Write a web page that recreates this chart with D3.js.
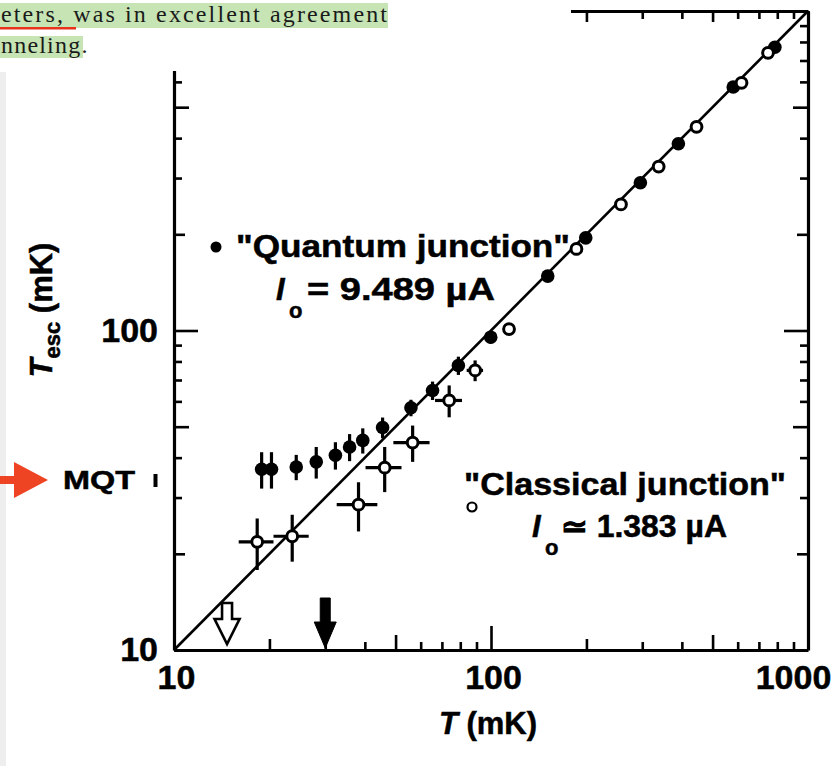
<!DOCTYPE html>
<html>
<head>
<meta charset="utf-8">
<script src="https://cdn.jsdelivr.net/npm/d3@7"></script>
<style>
  body { margin: 0; background: #fff; }
  svg { display: block; }
  .sans { font-family: "Liberation Sans", Arial, Helvetica, sans-serif; font-weight: bold; }
  .ink { stroke: #000; stroke-width: 0.5px; }
</style>
</head>
<body>
<svg id="chart" width="836" height="766"></svg>
<script>
// Escape temperature vs. bath temperature, both in mK, log-log.
// "Quantum junction" (filled) and "classical junction" (open) data.
const quantumT        = [18.9, 20.3, 24.3, 28.1, 32.3, 35.8, 39.4, 45.5, 55.9, 65.4, 78.9, 99.8, 151, 199, 296, 390, 581, 786];
const quantumTesc     = [36.8, 36.8, 37.4, 38.8, 40.7, 43.2, 45.3, 49.7, 57.3, 64.9, 77.7, 95.3, 148, 195, 290, 384, 578, 770];
const quantumTescErr  = [4.8, 4.8, 3.4, 4.4, 4.0, 4.2, 4.1, 3.7, 3.4, 4.3, 5.1, 4.2, 0, 0, 0, 0, 0, 0];

const classicalT       = [18.3, 23.6, 38.2, 46.2, 56.6, 73.8, 89.1, 114, 186, 257, 338, 445, 617, 748];
const classicalTesc    = [21.8, 22.7, 28.5, 37.2, 44.6, 60.4, 75.0, 101, 180, 248, 326, 434, 596, 740];
const classicalTErr    = [2.3, 3.0, 5.6, 6.0, 7.4, 7.2, 5.3, 0, 0, 0, 0, 0, 0, 0];
const classicalTescErr = [4.0, 3.8, 5.0, 6.0, 5.8, 6.9, 5.6, 0, 0, 0, 0, 0, 0, 0];

// Temperatures marked by arrows on the T axis (open, filled)
const arrowT = [14.7, 30];
const arrowKind = ["open", "filled"];

// Axis extent and labelled ticks
const axisDomain = [10, 1000];
const xTickLabels = [10, 100, 1000];
const yTickLabels = [10, 100];
const logTicks = [];
for (const dec of [10, 100]) for (let m = 1; m < 10; m++) logTicks.push(dec * m);
logTicks.push(1000);

const svg = d3.select("#chart");
const x = d3.scaleLog().domain(axisDomain).range([174, 808]);
const y = d3.scaleLog().domain(axisDomain).range([650, 11]);

function mant(v) { return Math.round(v / Math.pow(10, Math.floor(Math.log10(v) + 1e-9))); }
function tickLen(v) {
  const m = mant(v);
  if (m === 1) return 24;
  if (m === 5) return 15;
  if (m === 2) return 11;
  return 8;
}

// Diagonal T_esc = T
svg.append("line")
  .attr("x1", x(10)).attr("y1", y(10)).attr("x2", x(1000)).attr("y2", y(1000))
  .attr("stroke", "#000").attr("stroke-width", 2.6);

// Axes with inward ticks on all four sides
function styleAxis(g) {
  g.attr("font-family", null).attr("font-size", null);
  g.select(".domain").attr("stroke", "#000").attr("stroke-width", 3.2);
  g.selectAll(".tick line").attr("stroke", "#000").attr("stroke-width", 2.6);
  g.selectAll(".tick text").attr("class", "sans ink").attr("font-size", 34).attr("fill", "#000");
}
const fmtX = v => xTickLabels.includes(v) ? String(v) : "";
const fmtY = v => yTickLabels.includes(v) ? String(v) : "";

const gB = svg.append("g").attr("transform", `translate(0,${y(10)})`)
  .call(d3.axisBottom(x).tickValues(logTicks).tickFormat(fmtX).tickSizeInner(-8).tickSizeOuter(0).tickPadding(15));
gB.selectAll(".tick line").attr("y2", d => -tickLen(d));
styleAxis(gB);
// the last decade label sits inside the page edge
gB.selectAll(".tick text").attr("dx", d => d === 1000 ? -15 : (d === 10 ? 2 : 2));

const gT = svg.append("g").attr("transform", `translate(0,${y(1000)})`)
  .call(d3.axisTop(x).tickValues(logTicks).tickFormat(() => "").tickSizeInner(-8).tickSizeOuter(0));
gT.selectAll(".tick line").attr("y2", d => Math.min(tickLen(d), 11));
styleAxis(gT);

const gL = svg.append("g").attr("transform", `translate(${x(10)},0)`)
  .call(d3.axisLeft(y).tickValues(logTicks).tickFormat(fmtY).tickSizeInner(-8).tickSizeOuter(0).tickPadding(16));
gL.selectAll(".tick line").attr("x2", d => tickLen(d));
styleAxis(gL);

const gR = svg.append("g").attr("transform", `translate(${x(1000)},0)`)
  .call(d3.axisRight(y).tickValues(logTicks).tickFormat(() => "").tickSizeInner(-8).tickSizeOuter(0));
gR.selectAll(".tick line").attr("x2", d => -tickLen(d));
styleAxis(gR);

// Error bars
const quantum = quantumT.map((t, i) => ({ t, e: quantumTesc[i], de: quantumTescErr[i] }));
const classical = classicalT.map((t, i) => ({ t, e: classicalTesc[i], dt: classicalTErr[i], de: classicalTescErr[i] }));

const bars = svg.append("g").attr("stroke", "#000").attr("stroke-width", 3.2);
quantum.filter(d => d.de > 0).forEach(d => {
  bars.append("line").attr("x1", x(d.t)).attr("x2", x(d.t)).attr("y1", y(d.e - d.de)).attr("y2", y(d.e + d.de));
});
classical.forEach(d => {
  if (d.de > 0) bars.append("line").attr("x1", x(d.t)).attr("x2", x(d.t)).attr("y1", y(d.e - d.de)).attr("y2", y(d.e + d.de));
  if (d.dt > 0) bars.append("line").attr("x1", x(d.t - d.dt)).attr("x2", x(d.t + d.dt)).attr("y1", y(d.e)).attr("y2", y(d.e));
});

// Markers
svg.append("g").selectAll("circle").data(quantum).join("circle")
  .attr("cx", d => x(d.t)).attr("cy", d => y(d.e)).attr("r", 6.8).attr("fill", "#000");
svg.append("g").selectAll("circle").data(classical).join("circle")
  .attr("cx", d => x(d.t)).attr("cy", d => y(d.e)).attr("r", 5.4)
  .attr("fill", "#fff").attr("stroke", "#000").attr("stroke-width", 3);

// Arrows on the T axis
arrowT.forEach((t, i) => {
  const cx = x(t);
  const open = arrowKind[i] === "open";
  const top = open ? 603 : 598;
  const neck = open ? 619 : 622;
  const tip = open ? 644 : 648;
  const sw = 5, hw = open ? 12.5 : 11;
  const p = `M${cx - sw},${top}L${cx + sw},${top}L${cx + sw},${neck}L${cx + hw},${neck}L${cx},${tip}L${cx - hw},${neck}L${cx - sw},${neck}Z`;
  svg.append("path").attr("d", p)
    .attr("fill", open ? "#fff" : "#000")
    .attr("stroke", "#000").attr("stroke-width", open ? 2.6 : 1)
    .attr("stroke-linejoin", "miter");
});

// Legend-style annotations
svg.append("circle").attr("cx", 216).attr("cy", 247).attr("r", 5.5).attr("fill", "#000");
svg.append("text").attr("class", "sans ink").attr("x", 236).attr("y", 257).attr("font-size", 31)
  .attr("textLength", 334).attr("lengthAdjust", "spacingAndGlyphs").text("\"Quantum junction\"");
const q2 = svg.append("text").attr("class", "sans ink").attr("y", 300).attr("font-size", 31);
q2.append("tspan").attr("x", 276).attr("font-style", "italic").text("I");
q2.append("tspan").attr("x", 289).attr("dy", 18).attr("font-size", 22).text("o");
q2.append("tspan").attr("x", 307).attr("dy", -18).attr("textLength", 188).attr("lengthAdjust", "spacingAndGlyphs").text("= 9.489 µA");

svg.append("circle").attr("cx", 472).attr("cy", 507).attr("r", 4.5).attr("fill", "#fff").attr("stroke", "#000").attr("stroke-width", 2.2);
svg.append("text").attr("class", "sans ink").attr("x", 464).attr("y", 495).attr("font-size", 31)
  .attr("textLength", 322).attr("lengthAdjust", "spacingAndGlyphs").text("\"Classical junction\"");
const c2 = svg.append("text").attr("class", "sans ink").attr("y", 537).attr("font-size", 31);
c2.append("tspan").attr("x", 532).attr("font-style", "italic").text("I");
c2.append("tspan").attr("x", 545).attr("dy", 18).attr("font-size", 22).text("o");
c2.append("tspan").attr("x", 561).attr("dy", -18).attr("textLength", 166).attr("lengthAdjust", "spacingAndGlyphs").text("≃ 1.383 µA");

// MQT marker
svg.append("text").attr("class", "sans ink").attr("x", 63).attr("y", 489).attr("font-size", 26)
  .attr("textLength", 72).attr("lengthAdjust", "spacingAndGlyphs").text("MQT");
svg.append("line").attr("x1", 155.5).attr("x2", 155.5).attr("y1", 474).attr("y2", 487).attr("stroke", "#000").attr("stroke-width", 4);

// Axis titles
const xt = svg.append("text").attr("class", "sans ink").attr("x", 488).attr("y", 734).attr("font-size", 31).attr("text-anchor", "middle");
xt.append("tspan").attr("font-style", "italic").text("T");
xt.append("tspan").text(" (mK)");

const yt = svg.append("text").attr("class", "sans ink").attr("transform", "translate(52,310) rotate(-90)")
  .attr("font-size", 31).attr("text-anchor", "middle");
yt.append("tspan").attr("font-style", "italic").text("T");
yt.append("tspan").attr("dy", 8).attr("font-size", 22).text("esc");
yt.append("tspan").attr("dy", -8).text(" (mK)");

// Page overlay: body text above the figure
svg.append("rect").attr("x", 0).attr("y", 0).attr("width", 571).attr("height", 71).attr("fill", "#fff");
svg.append("rect").attr("x", 0).attr("y", 3).attr("width", 388).attr("height", 25).attr("fill", "#c6e4b4");
svg.append("rect").attr("x", 0).attr("y", 36).attr("width", 83).attr("height", 22).attr("fill", "#c6e4b4");
svg.append("rect").attr("x", 0).attr("y", 27).attr("width", 76).attr("height", 2.5).attr("fill", "#e8321e");
svg.append("text").attr("x", 1).attr("y", 22).attr("font-family", "'Liberation Serif', 'Times New Roman', serif")
  .attr("font-size", 24).attr("fill", "#1a1a1a").attr("textLength", 386).attr("lengthAdjust", "spacing")
  .text("eters, was in excellent agreement");
svg.append("text").attr("x", 1).attr("y", 53).attr("font-family", "'Liberation Serif', 'Times New Roman', serif")
  .attr("font-size", 24).attr("fill", "#1a1a1a").attr("letter-spacing", 1.2)
  .text("nneling.");

// Left page edge strip and red pointer
svg.append("rect").attr("x", 0).attr("y", 72).attr("width", 6).attr("height", 694).attr("fill", "#eeeeee");
svg.append("path").attr("d", "M0,476L14,476L14,462L48,480L14,498L14,484L0,484Z")
  .attr("fill", "#ef4423");
</script>
</body>
</html>
